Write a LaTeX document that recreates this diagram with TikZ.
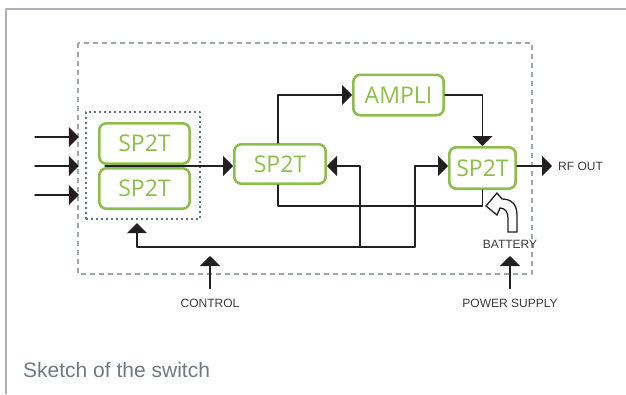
\documentclass[tikz,border=0pt]{standalone}
\usepackage{fontspec}
\setmainfont{Liberation Sans}
\newfontfamily\boxfont{Open Sans}
\usetikzlibrary{arrows.meta}

\definecolor{swgreen}{HTML}{8DBE4D}
\definecolor{wirecol}{HTML}{231F20}
\definecolor{dashgray}{HTML}{9BA8AF}
\definecolor{dotgray}{HTML}{607480}
\definecolor{framegray}{HTML}{ABB1B5}
\definecolor{capgray}{HTML}{6C7A83}
\definecolor{lblgray}{HTML}{3A3A3A}

\tikzset{
  swbox/.style = {draw = swgreen, line width = 2.6pt, rounded corners = 7pt,
    text = swgreen, font = \boxfont\fontsize{23}{25}\selectfont, inner sep = 0pt},
  wire/.style = {line width = 1.5pt, draw = wirecol},
  lbl/.style = {font = \fontsize{12}{14}\selectfont, text = lblgray, inner sep = 0pt},
  groupbox/.style = {draw = dotgray, line width = 2.3pt, line cap = butt,
    dash pattern = on 2.3pt off 2.7pt, inner sep = 0pt},
  modbox/.style = {draw = dashgray, line width = 1.2pt, line cap = butt,
    dash pattern = on 5pt off 4pt}
}

\begin{document}
\begin{tikzpicture}[x = 1pt, y = -1pt, line join = round, line cap = round,
  >={Triangle[length = 10pt, width = 20pt]}]
  \useasboundingbox (0, 0) rectangle (626, 394);

  % frame and caption
  \draw[framegray, line width = 1.6pt, line cap = butt] (6, 394) -- (6, 9) -- (626, 9);
  \node[anchor = base west, text = capgray, font = \fontsize{21}{24}\selectfont,
  inner sep = 0pt] (caption) at (23, 377) {Sketch of the switch};

  % module outline
  \draw[modbox] (78, 43) rectangle (532, 274);
  \node[groupbox, minimum width = 114pt, minimum height = 107pt] (group) at (143, 165.5) {};

  \node[swbox, minimum width = 90.4pt, minimum height = 40.4pt] (swA) at (144.5, 143.5) {SP2T};
  \node[swbox, minimum width = 90.4pt, minimum height = 40.4pt] (swB) at (144.5, 188.5) {SP2T};
  \node[swbox, minimum width = 91.4pt, minimum height = 39.4pt] (swM) at (280, 164) {SP2T};
  \node[swbox, minimum width = 90.4pt, minimum height = 40.4pt] (ampli) at (398.5, 95) {AMPLI};
  \node[swbox, minimum width = 66.4pt, minimum height = 41.4pt] (swR) at (482.5, 168) {SP2T};

  \coordinate (rail) at (0, 166);
  \coordinate (split) at (105, 166);
  \coordinate (busM) at (360, 247);
  \coordinate (busR) at (415, 247);
  \coordinate (ctrl) at (210, 256);
  \coordinate (pwr) at (510, 256);

  % inputs
  \foreach \y [count = \i] in {137, 166, 195} {
    \coordinate (in\i) at (35, \y);
    \draw[wire, ->, shorten > = 6pt] (in\i) -- (group.west |- in\i);
  }

  % rf path
  \draw[wire, ->] (split) -- (swM.west |- rail);
  \draw[wire, ->] ([xshift = -2pt]swM.north) |- (ampli.west);
  \draw[wire, ->] (ampli.east) -| (swR.north);
  \draw[wire, ->] (swR.east |- rail) -- ++(35, 0) coordinate (rfout);
  \node[lbl, anchor = west] (rflbl) at ([xshift = 6pt]rfout) {RF OUT};
  \draw[wire] ([xshift = -2pt]swM.south) |- ([yshift = -16pt]swR.south) -- (swR.south);

  % control bus
  \draw[wire, <->, shorten < = 3pt] ([xshift = -6pt]group.south) |- (busR) |- (swR.west |- rail);
  \draw[wire, ->] (busM) |- (swM.east |- rail);

  \node[lbl] (control) at (210, 303) {CONTROL};
  \draw[wire, ->] ([yshift = 10pt]control.north) -- (ctrl);
  \node[lbl] (power) at (510, 303) {POWER SUPPLY};
  \draw[wire, ->] ([yshift = 10pt]power.north) -- (pwr);
  \node[lbl] (battery) at (510, 244) {BATTERY};

  % battery arrow
  \draw[wirecol, fill = white, line width = 1.3pt, line join = miter]
    (508, 232) -- (517, 232) -- (517, 215) .. controls (517, 204) and (511, 199) ..
    (502, 199) -- (497, 193) -- (486, 206) -- (497, 215) -- (500, 208)
    .. controls (505, 208) and (508, 212) .. (508, 218) -- cycle;
\end{tikzpicture}
\end{document}
